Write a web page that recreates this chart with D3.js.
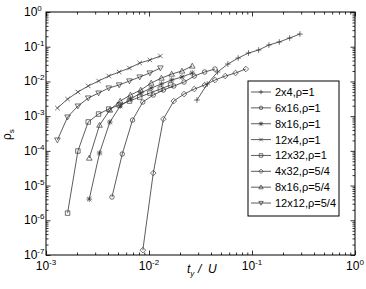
<!DOCTYPE html>
<html>
<head>
<meta charset="utf-8">
<script src="https://cdn.jsdelivr.net/npm/d3@7"></script>
<style>
body { margin: 0; background: #fff; }
text { font-family: "Liberation Sans", Arial, sans-serif; fill: #000; }
</style>
</head>
<body>
<script>
// define constants
const svgWidth = 366;
const svgHeight = 289;
const margin = {top: 12, right: 11, bottom: 34, left: 46};
const plotWidth = svgWidth - margin.left - margin.right;
const plotHeight = svgHeight - margin.top - margin.bottom;

// tick labels (exponents of 10)
const xTickExps = ['-3', '-2', '-1', '0'];
const yTickExps = ['0', '-1', '-2', '-3', '-4', '-5', '-6', '-7'];

// series names and markers
const seriesNames = ['2x4,ρ=1', '6x16,ρ=1', '8x16,ρ=1', '12x4,ρ=1', '12x32,ρ=1', '4x32,ρ=5/4', '8x16,ρ=5/4', '12x12,ρ=5/4'];
const seriesMarkers = ['plus', 'circle', 'star', 'cross', 'square', 'diamond', 'triUp', 'triDown'];

// t_y / U values, one array per series
const t_2x4_1    = [0.0292, 0.0368, 0.0463, 0.0583, 0.0734, 0.0924, 0.116, 0.146, 0.184, 0.232, 0.292];
const t_6x16_1   = [0.00437, 0.00550, 0.00692, 0.00871, 0.0110, 0.0138, 0.0174, 0.0219, 0.0275, 0.0347, 0.0437];
const t_8x16_1   = [0.00263, 0.00331, 0.00417, 0.00525, 0.00661, 0.00832, 0.0105, 0.0132, 0.0166, 0.0209, 0.0263];
const t_12x4_1   = [0.00129, 0.00162, 0.00204, 0.00257, 0.00324, 0.00407, 0.00513, 0.00646, 0.00813, 0.0102, 0.0129];
const t_12x32_1  = [0.00162, 0.00204, 0.00257, 0.00324, 0.00407, 0.00513, 0.00646, 0.00813, 0.0102, 0.0129, 0.0162];
const t_4x32_54  = [0.00871, 0.0110, 0.0138, 0.0174, 0.0219, 0.0275, 0.0347, 0.0437, 0.0550, 0.0692, 0.0871];
const t_8x16_54  = [0.00263, 0.00331, 0.00417, 0.00525, 0.00661, 0.00832, 0.0105, 0.0132, 0.0166, 0.0209, 0.0263];
const t_12x12_54 = [0.00129, 0.00162, 0.00204, 0.00257, 0.00324, 0.00407, 0.00513, 0.00646, 0.00813, 0.0102, 0.0129];

// rho_s values, one array per series
const rho_2x4_1    = [0.00291, 0.00841, 0.0187, 0.0317, 0.0472, 0.0658, 0.0803, 0.112, 0.137, 0.178, 0.232];
const rho_6x16_1   = [4.67e-6, 8.1e-5, 7.7e-4, 0.00255, 0.00406, 0.00565, 0.00737, 0.0096, 0.0143, 0.0187, 0.0228];
const rho_8x16_1   = [4.08e-6, 8.65e-5, 6.76e-4, 0.00195, 0.00311, 0.00463, 0.00645, 0.00841, 0.0110, 0.0134, 0.0175];
const rho_12x4_1   = [0.00171, 0.0031, 0.00495, 0.0074, 0.0103, 0.0143, 0.0187, 0.0243, 0.0339, 0.0414, 0.054];
const rho_12x32_1  = [1.61e-6, 9.9e-5, 6.8e-4, 0.00115, 0.0016, 0.00209, 0.00272, 0.00355, 0.00463, 0.00604, 0.0079];
const rho_4x32_54  = [1.38e-7, 2.29e-5, 8.25e-4, 0.00272, 0.00433, 0.00604, 0.00787, 0.0110, 0.0143, 0.0175, 0.0228];
const rho_8x16_54  = [6.2e-5, 5.5e-4, 0.0015, 0.00272, 0.00406, 0.00565, 0.0090, 0.0125, 0.0163, 0.020, 0.0278];
const rho_12x12_54 = [2.05e-4, 9.4e-4, 0.00195, 0.00332, 0.00463, 0.00645, 0.0079, 0.0103, 0.0134, 0.0175, 0.0243];

const tSeries = [t_2x4_1, t_6x16_1, t_8x16_1, t_12x4_1, t_12x32_1, t_4x32_54, t_8x16_54, t_12x12_54];
const rhoSeries = [rho_2x4_1, rho_6x16_1, rho_8x16_1, rho_12x4_1, rho_12x32_1, rho_4x32_54, rho_8x16_54, rho_12x12_54];

// marker shapes as paths centered on 0,0
function markerPath(type, s) {
    const c = s * 0.8;
    switch (type) {
        case 'plus':    return `M${-s},0H${s}M0,${-s}V${s}`;
        case 'cross':   return `M${-c},${-c}L${c},${c}M${-c},${c}L${c},${-c}`;
        case 'star':    return `M${-s},0H${s}M0,${-s}V${s}M${-c},${-c}L${c},${c}M${-c},${c}L${c},${-c}`;
        case 'circle':  return `M${c},0A${c},${c} 0 1,1 ${-c},0A${c},${c} 0 1,1 ${c},0Z`;
        case 'square':  return `M${-c},${-c}H${c}V${c}H${-c}Z`;
        case 'diamond': return `M0,${-s}L${s},0L0,${s}L${-s},0Z`;
        case 'triUp':   return `M0,${-s}L${s},${s * 0.75}L${-s},${s * 0.75}Z`;
        case 'triDown': return `M0,${s}L${s},${-s * 0.75}L${-s},${-s * 0.75}Z`;
    }
}

function draw() {

    const svg = d3.select('body')
                  .append('svg')
                  .attr('width', svgWidth)
                  .attr('height', svgHeight);

    svg.append('rect')
       .attr('width', svgWidth)
       .attr('height', svgHeight)
       .attr('fill', '#fff');

    const inner = svg.append('g')
                     .attr('transform', 'translate(' + margin.left + ',' + margin.top + ')');

    // log scales
    const xScale = d3.scaleLog().domain([1e-3, 1]).range([0, plotWidth]);
    const yScale = d3.scaleLog().domain([1e-7, 1]).range([plotHeight, 0]);

    const isMajor = v => Math.abs(Math.log10(v) - Math.round(Math.log10(v))) < 1e-9;
    const xMinor = xScale.ticks().filter(v => !isMajor(v));
    const xMajor = xScale.ticks().filter(isMajor);
    const yMinor = yScale.ticks().filter(v => !isMajor(v));
    const yMajor = yScale.ticks().filter(isMajor);

    // axes with inward ticks on all four sides
    const axes = [
        [d3.axisBottom(xScale), 'translate(0,' + plotHeight + ')', xMinor, xMajor, -1],
        [d3.axisTop(xScale), 'translate(0,0)', xMinor, xMajor, -1],
        [d3.axisLeft(yScale), 'translate(0,0)', yMinor, yMajor, -1],
        [d3.axisRight(yScale), 'translate(' + plotWidth + ',0)', yMinor, yMajor, -1]
    ];
    axes.forEach(([axis, tr, minor, major]) => {
        inner.append('g').attr('transform', tr)
             .call(axis.tickValues(minor).tickSize(-2.5).tickFormat(''))
             .call(g => g.select('.domain').remove());
        inner.append('g').attr('transform', tr)
             .call(axis.tickValues(major).tickSize(-4.5).tickFormat(''))
             .call(g => g.select('.domain').remove());
    });
    inner.selectAll('.tick line').attr('stroke', '#000').attr('stroke-width', 0.8);

    // plot box
    inner.append('rect')
         .attr('width', plotWidth)
         .attr('height', plotHeight)
         .attr('fill', 'none')
         .attr('stroke', '#000')
         .attr('stroke-width', 1);

    // x tick labels
    const xl = inner.selectAll('text.xlab')
                    .data(xMajor)
                    .enter()
                    .append('text')
                    .attr('class', 'xlab')
                    .attr('x', d => xScale(d))
                    .attr('y', plotHeight + 15)
                    .attr('text-anchor', 'middle')
                    .style('font-size', '12px');
    xl.append('tspan').text('10');
    xl.append('tspan').attr('dy', -5).style('font-size', '8px').text((d, i) => xTickExps[i]);

    // y tick labels
    const yl = inner.selectAll('text.ylab')
                    .data(yMajor.slice().reverse())
                    .enter()
                    .append('text')
                    .attr('class', 'ylab')
                    .attr('x', -22)
                    .attr('y', d => yScale(d) + 4)
                    .style('font-size', '12px');
    yl.append('tspan').text('10');
    yl.append('tspan').attr('dy', -5).style('font-size', '8px').text((d, i) => yTickExps[i]);

    // axis titles
    const xt = svg.append('text')
                  .attr('x', 187)
                  .attr('y', 273)
                  .style('font-size', '12px')
                  .style('font-style', 'italic');
    xt.append('tspan').text('t');
    xt.append('tspan').attr('dy', 3).style('font-size', '8px').text('y');
    xt.append('tspan').attr('x', 198).attr('dy', -3).text('/');
    xt.append('tspan').attr('x', 208).text('U');

    const yt = svg.append('text')
                  .attr('transform', 'translate(11,140) rotate(-90)')
                  .style('font-size', '12px');
    yt.append('tspan').text('ρ');
    yt.append('tspan').attr('dy', 3).style('font-size', '8px').text('s');

    // lines and markers
    const line = d3.line().x(d => xScale(d[0])).y(d => yScale(d[1]));
    seriesNames.forEach((name, i) => {
        const pts = d3.zip(tSeries[i], rhoSeries[i]);
        inner.append('path')
             .datum(pts)
             .attr('d', line)
             .attr('fill', 'none')
             .attr('stroke', '#333')
             .attr('stroke-width', 0.8);
        inner.selectAll('path.m' + i)
             .data(pts)
             .enter()
             .append('path')
             .attr('class', 'm' + i)
             .attr('transform', d => 'translate(' + xScale(d[0]) + ',' + yScale(d[1]) + ')')
             .attr('d', markerPath(seriesMarkers[i], 2.8))
             .attr('fill', seriesMarkers[i] === 'star' ? '#333' : 'none')
             .attr('stroke', '#333')
             .attr('stroke-width', 0.7);
    });

    // legend
    const legend = svg.append('g').attr('transform', 'translate(248,81)');
    legend.append('rect')
          .attr('width', 91)
          .attr('height', 135)
          .attr('fill', '#fff')
          .attr('stroke', '#000')
          .attr('stroke-width', 1);
    const rows = legend.selectAll('g.row')
                       .data(seriesNames)
                       .enter()
                       .append('g')
                       .attr('class', 'row')
                       .attr('transform', (d, i) => 'translate(0,' + (11 + i * 15.86) + ')');
    rows.append('line')
        .attr('x1', 3).attr('x2', 23)
        .attr('stroke', '#333').attr('stroke-width', 0.8);
    rows.append('path')
        .attr('transform', 'translate(13,0)')
        .attr('d', (d, i) => markerPath(seriesMarkers[i], 2.2))
        .attr('fill', (d, i) => seriesMarkers[i] === 'star' ? '#333' : 'none')
        .attr('stroke', '#333')
        .attr('stroke-width', 0.7);
    rows.append('text')
        .attr('x', 27)
        .attr('y', 4)
        .style('font-size', '11px')
        .text(d => d);
}

draw();
</script>
</body>
</html>
